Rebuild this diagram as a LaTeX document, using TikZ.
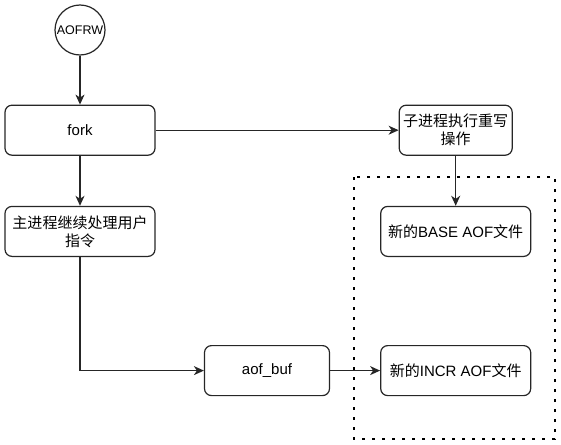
\documentclass[tikz,border=0pt]{standalone}
\usepackage{fontspec}
\setmainfont{Liberation Sans}
\newfontfamily\cjk{Noto Sans CJK SC}
\usetikzlibrary{arrows.meta,positioning}

\begin{document}
\begin{tikzpicture}[
    x=1pt, y=1pt,
    node distance=50pt,
    box/.style={rectangle, draw=black!85, line width=1.2pt, rounded corners=7pt,
        minimum width=150pt, minimum height=50pt, align=center,
        font=\fontsize{15pt}{18pt}\selectfont},
    startnode/.style={circle, draw=black!85, line width=1.2pt, minimum size=50pt,
        inner sep=0pt, font=\fontsize{12.5pt}{15pt}\selectfont},
    arrow/.style={-{Stealth[length=10pt, width=9pt, inset=3pt]}, line width=1.2pt, draw=black!85},
    dotframe/.style={draw=black, line width=2.8pt, dash pattern=on 3pt off 7pt}
]
\useasboundingbox (0,0) rectangle (561,-444);

\node[startnode] (aofrw) at (80,-30) {AOFRW};
\node[box, below=49pt of aofrw] (fork) {fork};
\node[box, below=of fork] (main) {{\cjk 主进程继续处理用户}\\{\cjk 指令}};
\node[box, minimum width=113pt, right=243pt of fork] (child) {{\cjk 子进程执行重写}\\{\cjk 操作}};
\node[box, below=of child] (base) {{\cjk 新的}BASE AOF{\cjk 文件}};
\node[box, below=88pt of base] (incr) {{\cjk 新的}INCR AOF{\cjk 文件}};
\node[box, minimum width=125pt, left=of incr] (buf) {aof\_buf};

% dotted frame round the new files
\coordinate (frametl) at (354,-177);
\coordinate (framebr) at (555,-439);
\draw[dotframe] (frametl) rectangle (framebr);

\draw[arrow] (aofrw) -- (fork);
\draw[arrow] (fork) -- (main);
\draw[arrow] (fork) -- (child);
\draw[arrow] (child) -- (base);
\draw[arrow] (main.south) |- (buf.west);
\draw[arrow] (buf) -- (incr);
\end{tikzpicture}
\end{document}
